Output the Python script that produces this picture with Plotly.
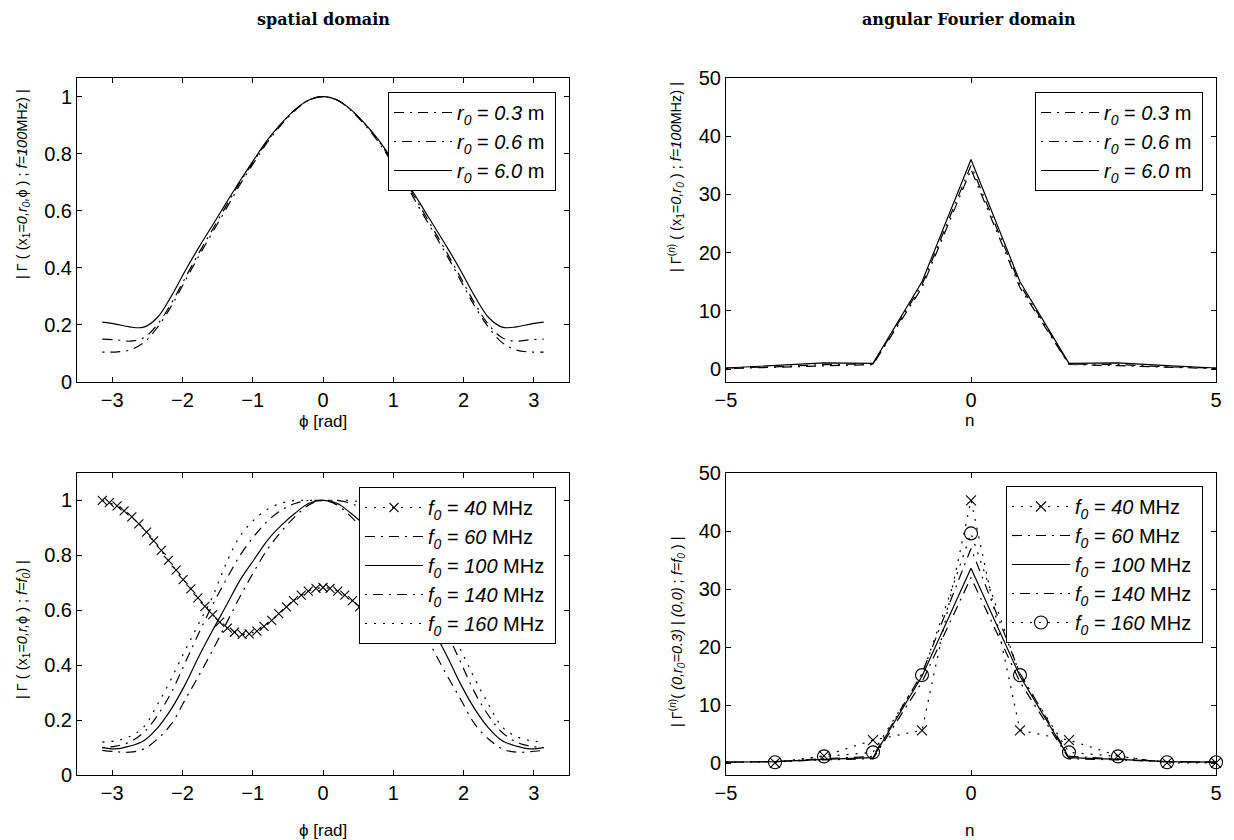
import plotly.graph_objects as go

# ---------------- data ----------------
PHI = [-3.14, -2.95, -2.75, -2.55, -2.36, -2.16, -1.96, -1.77, -1.57, -1.37, -1.18,
       -0.98, -0.79, -0.59, -0.39, -0.20, 0.00, 0.20, 0.39, 0.59, 0.79, 0.98,
       1.18, 1.37, 1.57, 1.77, 1.96, 2.16, 2.36, 2.55, 2.75, 2.95, 3.14]

# top-left: spatial domain, f = 100 MHz
TL_R03 = [0.150, 0.148, 0.143, 0.155, 0.200, 0.275, 0.365, 0.450, 0.535, 0.620, 0.700,
          0.775, 0.845, 0.905, 0.955, 0.988, 1.000, 0.988, 0.955, 0.905, 0.845, 0.775,
          0.700, 0.620, 0.535, 0.450, 0.365, 0.275, 0.200, 0.155, 0.143, 0.148, 0.150]
TL_R06 = [0.105, 0.105, 0.112, 0.138, 0.190, 0.265, 0.355, 0.440, 0.525, 0.610, 0.692,
          0.770, 0.840, 0.902, 0.953, 0.988, 1.000, 0.988, 0.953, 0.902, 0.840, 0.770,
          0.692, 0.610, 0.525, 0.440, 0.355, 0.265, 0.190, 0.138, 0.112, 0.105, 0.105]
TL_R60 = [0.210, 0.203, 0.193, 0.192, 0.225, 0.300, 0.390, 0.470, 0.550, 0.630, 0.705,
          0.780, 0.848, 0.907, 0.956, 0.988, 1.000, 0.988, 0.956, 0.907, 0.848, 0.780,
          0.705, 0.630, 0.550, 0.470, 0.390, 0.300, 0.225, 0.192, 0.193, 0.203, 0.210]

# top-right: angular Fourier domain
N = [-5, -4, -3, -2, -1, 0, 1, 2, 3, 4, 5]
TR_R03 = [0.2, 0.4, 0.8, 0.9, 14.5, 35.0, 14.5, 0.9, 0.8, 0.4, 0.2]
TR_R06 = [0.1, 0.3, 0.6, 0.8, 14.0, 34.3, 14.0, 0.8, 0.6, 0.3, 0.1]
TR_R60 = [0.2, 0.6, 1.1, 1.0, 15.0, 36.0, 15.0, 1.0, 1.1, 0.6, 0.2]

# bottom-left: spatial domain, several f0
PHI_FINE = [-3.14, -3.04, -2.93, -2.83, -2.72, -2.62, -2.51, -2.41, -2.30, -2.20, -2.09,
            -1.99, -1.88, -1.78, -1.68, -1.57, -1.47, -1.36, -1.26, -1.15, -1.05, -0.94,
            -0.84, -0.73, -0.63, -0.52, -0.42, -0.31, -0.21, -0.10, 0.00, 0.10, 0.21,
            0.31, 0.42, 0.52, 0.63, 0.73, 0.84, 0.94, 1.05, 1.15, 1.26, 1.36, 1.47,
            1.57, 1.68, 1.78, 1.88, 1.99, 2.09, 2.20, 2.30, 2.41, 2.51, 2.62, 2.72,
            2.83, 2.93, 3.04, 3.14]
BL_F40 = [1.000, 0.992, 0.980, 0.962, 0.940, 0.915, 0.885, 0.853, 0.818, 0.782, 0.746,
          0.712, 0.678, 0.645, 0.614, 0.584, 0.557, 0.535, 0.520, 0.512, 0.514, 0.524,
          0.541, 0.563, 0.588, 0.612, 0.635, 0.655, 0.670, 0.680, 0.683, 0.680, 0.670,
          0.655, 0.635, 0.612, 0.588, 0.563, 0.541, 0.524, 0.514, 0.512, 0.520, 0.535,
          0.557, 0.584, 0.614, 0.645, 0.678, 0.712, 0.746, 0.782, 0.818, 0.853, 0.885,
          0.915, 0.940, 0.962, 0.980, 0.992, 1.000]
BL_F60 = [0.090, 0.085, 0.083, 0.095, 0.130, 0.185, 0.275, 0.360, 0.455, 0.555, 0.650,
          0.742, 0.822, 0.888, 0.943, 0.984, 1.000, 0.984, 0.943, 0.888, 0.822, 0.742,
          0.650, 0.555, 0.455, 0.360, 0.275, 0.185, 0.130, 0.095, 0.083, 0.085, 0.090]
BL_F100 = [0.100, 0.095, 0.105, 0.125, 0.170, 0.240, 0.330, 0.430, 0.527, 0.620, 0.710,
           0.785, 0.855, 0.910, 0.955, 0.990, 1.000, 0.990, 0.955, 0.910, 0.855, 0.785,
           0.710, 0.620, 0.527, 0.430, 0.330, 0.240, 0.170, 0.125, 0.105, 0.095, 0.100]
BL_F140 = [0.100, 0.105, 0.120, 0.155, 0.215, 0.300, 0.410, 0.515, 0.620, 0.715, 0.800,
           0.870, 0.925, 0.965, 0.990, 1.000, 1.000, 1.000, 0.990, 0.965, 0.925, 0.870,
           0.800, 0.715, 0.620, 0.515, 0.410, 0.300, 0.215, 0.155, 0.120, 0.105, 0.100]
BL_F160 = [0.120, 0.125, 0.140, 0.175, 0.255, 0.350, 0.455, 0.550, 0.650, 0.775, 0.870,
           0.930, 0.968, 0.990, 1.000, 1.000, 1.000, 1.000, 1.000, 0.990, 0.968, 0.930,
           0.870, 0.775, 0.650, 0.550, 0.455, 0.350, 0.255, 0.175, 0.140, 0.125, 0.120]

# bottom-right: angular Fourier domain, several f0
N_MARK = [-4, -3, -2, -1, 0, 1, 2, 3, 4, 5]
BR_F40 = [0.1, 1.3, 4.0, 5.7, 45.3, 5.7, 4.0, 1.3, 0.1, 0.1]
BR_F60 = [0.2, 0.3, 0.6, 0.8, 14.0, 32.0, 14.0, 0.8, 0.6, 0.3, 0.2]
BR_F100 = [0.2, 0.3, 0.7, 1.0, 15.0, 33.6, 15.0, 1.0, 0.7, 0.3, 0.2]
BR_F140 = [0.2, 0.3, 0.8, 1.2, 15.5, 37.0, 15.5, 1.2, 0.8, 0.3, 0.2]
BR_F160 = [0.2, 1.2, 1.9, 15.2, 39.6, 15.2, 1.9, 1.2, 0.2, 0.2]

# ---------------- figure ----------------
OFF = 8                       # page body margin of the html page
W, H = 1234 - OFF, 840 - OFF
FONT = "Liberation Sans, Arial, Helvetica, sans-serif"
BLACK = "black"

def px_x(p):
    return (p - OFF) / W

def px_y(p):
    return 1 - (p - OFF) / H

XL = [px_x(77), px_x(569)]
XR = [px_x(726), px_x(1216)]
YT = [px_y(382), px_y(78)]
YB = [px_y(775), px_y(473)]

fig = go.Figure()

DASH_A = "10px,6px,2px,6px"   # "— ·"
DASH_B = "2px,6px,10px,6px"   # "· —"
DOT = "2px,7px"
LW = 1.2

def add(x, y, name, xa, ya, leg, dash="solid", mode="lines", symbol=None, msize=10,
        shape="linear"):
    kw = dict(x=x, y=y, name=name, xaxis=xa, yaxis=ya, legend=leg, mode=mode,
              legendgroup=leg + name,
              line=dict(color=BLACK, width=LW, dash=dash, shape=shape),
              showlegend=True, cliponaxis=(mode == "lines"))
    if symbol:
        kw["marker"] = dict(symbol=symbol, size=msize, color=BLACK,
                            line=dict(color=BLACK, width=1.1))
    fig.add_trace(go.Scatter(**kw))

def r0(v):
    return "<i>r<sub>0</sub></i> = <i>%s</i> m&nbsp;" % v

def f0(v):
    return "<i>f<sub>0</sub></i> = <i>%s</i> MHz&nbsp;" % v

# top-left
add(PHI, TL_R03, r0("0.3"), "x", "y", "legend", DASH_A, shape="spline")
add(PHI, TL_R06, r0("0.6"), "x", "y", "legend", DASH_B, shape="spline")
add(PHI, TL_R60, r0("6.0"), "x", "y", "legend", "solid", shape="spline")
# top-right
add(N, TR_R03, r0("0.3"), "x2", "y2", "legend2", DASH_A)
add(N, TR_R06, r0("0.6"), "x2", "y2", "legend2", DASH_B)
add(N, TR_R60, r0("6.0"), "x2", "y2", "legend2", "solid")
# bottom-left
add(PHI_FINE, BL_F40, f0("40"), "x3", "y3", "legend3", DOT, mode="lines+markers",
    symbol="x-thin-open", msize=9)
add(PHI, BL_F60, f0("60"), "x3", "y3", "legend3", DASH_A, shape="spline")
add(PHI, BL_F100, f0("100"), "x3", "y3", "legend3", "solid", shape="spline")
add(PHI, BL_F140, f0("140"), "x3", "y3", "legend3", DASH_B, shape="spline")
add(PHI, BL_F160, f0("160"), "x3", "y3", "legend3", DOT, shape="spline")
# bottom-right
add(N_MARK, BR_F40, f0("40"), "x4", "y4", "legend4", DOT, mode="lines+markers",
    symbol="x-thin-open", msize=10)
add(N, BR_F60, f0("60"), "x4", "y4", "legend4", DASH_A)
add(N, BR_F100, f0("100"), "x4", "y4", "legend4", "solid")
add(N, BR_F140, f0("140"), "x4", "y4", "legend4", DASH_B)
add(N_MARK, BR_F160, f0("160"), "x4", "y4", "legend4", DOT, mode="lines+markers",
    symbol="circle-open", msize=13)

axis_common = dict(showline=True, linecolor=BLACK, linewidth=1, mirror="ticks",
                   ticks="inside", ticklen=5, tickcolor=BLACK, tickwidth=1,
                   showgrid=False, zeroline=False, automargin=False,
                   tickfont=dict(family=FONT, size=20, color=BLACK))

def xax(dom, anchor, rng, tickvals):
    d = dict(axis_common)
    d.update(domain=dom, anchor=anchor, range=rng, tickvals=tickvals)
    return d

def yax(dom, anchor, rng, tickvals, ticktext=None):
    d = dict(axis_common)
    d.update(domain=dom, anchor=anchor, range=rng, tickvals=tickvals)
    if ticktext:
        d["ticktext"] = ticktext
    return d

PHI_TICKS = [-3, -2, -1, 0, 1, 2, 3]
N_TICKS = [-5, 0, 5]
Y1_TICKS = [0, 0.2, 0.4, 0.6, 0.8, 1]
Y1_TEXT = ["0", "0.2", "0.4", "0.6", "0.8", "1"]
Y2_TICKS = [0, 10, 20, 30, 40, 50]

def legend_box(xr, yt):
    return dict(x=px_x(xr), y=px_y(yt), xanchor="right", yanchor="top",
                bgcolor="white", bordercolor=BLACK, borderwidth=1,
                font=dict(family=FONT, size=20, color=BLACK),
                traceorder="grouped", tracegroupgap=0, itemwidth=58)

fig.update_layout(
    width=W, height=H, template="none",
    paper_bgcolor="white", plot_bgcolor="white",
    margin=dict(l=0, r=0, t=0, b=0),
    font=dict(family=FONT, size=17, color=BLACK),
    xaxis=xax(XL, "y", [-3.5, 3.5], PHI_TICKS),
    yaxis=yax(YT, "x", [0, 1.065], Y1_TICKS, Y1_TEXT),
    xaxis2=xax(XR, "y2", [-5, 5], N_TICKS),
    yaxis2=yax(YT, "x2", [-2.2, 50], Y2_TICKS),
    xaxis3=xax(XL, "y3", [-3.5, 3.5], PHI_TICKS),
    yaxis3=yax(YB, "x3", [0, 1.1], Y1_TICKS, Y1_TEXT),
    xaxis4=xax(XR, "y4", [-5, 5], N_TICKS),
    yaxis4=yax(YB, "x4", [-2, 50], Y2_TICKS),
    legend=legend_box(556, 92),
    legend2=legend_box(1203, 92),
    legend3=legend_box(556, 487),
    legend4=legend_box(1203, 486),
)

TITLE_FONT = dict(family="DejaVu Serif, serif", size=16, color=BLACK)
LBL_FONT = dict(family=FONT, size=17, color=BLACK)
YLBL_FONT = dict(family=FONT, size=14.5, color=BLACK)

ann = [
    dict(text="<b>spatial domain</b>", x=px_x(323), y=1.0, yanchor="top", font=TITLE_FONT),
    dict(text="<b>angular Fourier domain</b>", x=px_x(969), y=1.0, yanchor="top",
         font=TITLE_FONT),
    dict(text="ϕ [rad]", x=px_x(323), y=px_y(421), font=LBL_FONT),
    dict(text="n", x=px_x(969), y=px_y(420), font=LBL_FONT),
    dict(text="ϕ [rad]", x=px_x(323), y=px_y(830), font=LBL_FONT),
    dict(text="n", x=px_x(969), y=px_y(830), font=LBL_FONT),
    dict(text="| Γ ( (x<sub>1</sub>=<i>0,r<sub>0</sub>,</i>ϕ ) ; <i>f=100</i>MHz) |",
         x=px_x(23), y=px_y(184), textangle=-90, font=YLBL_FONT),
    dict(text="| Γ<sup>(<i>n</i>)</sup> ( (x<sub>1</sub>=<i>0,r<sub>0</sub></i> ) ; <i>f=100</i>MHz) |",
         x=px_x(676), y=px_y(177), textangle=-90, font=YLBL_FONT),
    dict(text="| Γ ( (x<sub>1</sub>=<i>0,r,</i>ϕ ) ; <i>f=f<sub>0</sub></i>) |",
         x=px_x(23), y=px_y(630), textangle=-90, font=YLBL_FONT),
    dict(text="| Γ<sup>(<i>n</i>)</sup>( <i>(0,r<sub>0</sub>=0.3)</i> | <i>(0,0)</i> ; <i>f=f<sub>0</sub></i> ) |",
         x=px_x(677), y=px_y(632), textangle=-90, font=YLBL_FONT),
]
for a in ann:
    a.setdefault("yanchor", "middle")
    a.update(xref="paper", yref="paper", showarrow=False, xanchor="center")
fig.update_layout(annotations=ann)

fig.write_html("out.html")
